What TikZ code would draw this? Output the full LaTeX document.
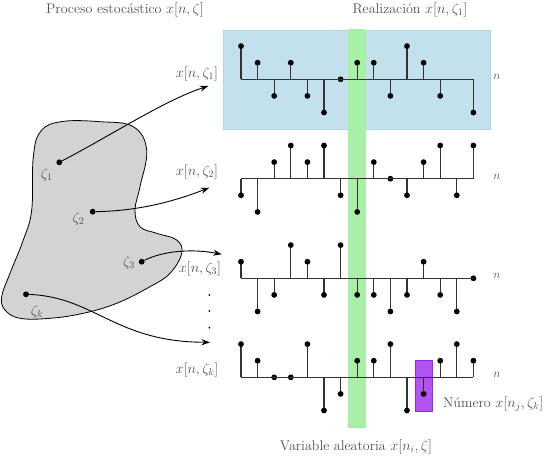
\documentclass[tikz,border=0pt]{standalone}
\usetikzlibrary{arrows.meta}
\definecolor{realblue}{RGB}{194,225,236}
\definecolor{realblueedge}{RGB}{178,214,228}
\definecolor{vargreen}{RGB}{168,240,166}
\definecolor{numpurple}{RGB}{178,82,240}
\definecolor{numpurpleedge}{RGB}{150,40,225}
\definecolor{blobgray}{RGB}{211,211,211}
\definecolor{txt}{RGB}{80,80,80}
\tikzset{
  dot/.style={circle,fill=black,inner sep=0pt,minimum size=5.8pt},
  smalldot/.style={circle,fill=black,inner sep=0pt,minimum size=2pt},
  stem/.style={line width=1.1pt,draw=black!80},
  lbl/.style={text=txt,font=\fontsize{14}{16}\selectfont,inner sep=0pt},
  axlbl/.style={text=txt,font=\fontsize{12}{14}\selectfont,inner sep=0pt},
  link/.style={line width=0.9pt,-{Stealth[length=8.5pt,width=6pt]}},
}
\begin{document}
\begin{tikzpicture}[x=1pt,y=-1pt]
\useasboundingbox (0,0) rectangle (549,459);
% highlight regions
\draw[fill=realblue,draw=realblueedge,line width=0.6pt] (223.3,30) rectangle (490.7,129);
\fill[vargreen] (348.3,29) rectangle (365.7,428.3);
\draw[fill=numpurple,draw=numpurpleedge,line width=0.8pt] (415,360.7) rectangle (432.7,411);
% sequences
\foreach \r/\y/\vals in {
  1/79.3/{2,1,-1,1,-1,-2,0,1,1,-1,2,1,-1,9,-2},
  2/178.7/{-1,-2,1,2,1,2,-1,-2,1,0,-1,1,2,-1,2},
  3/278.3/{1,-2,-1,2,1,-1,2,-1,-1,-2,-1,1,-1,-2,0},
  4/377.3/{2,1,0,0,2,-2,-1,1,1,2,-2,-1,1,2,1}} {
  \foreach \v [count=\i from 0] in \vals {
    \pgfmathsetmacro\xx{241+16.6*\i}
    \coordinate (b\r-\i) at (\xx,\y);
    \ifnum\v=9 \else
      \draw[stem] (b\r-\i) -- (\xx,{\y-16.6*\v}) node[dot] (d\r-\i) {};
    \fi
  }
  \draw[stem] (b\r-0) -- (b\r-14);
  \node[axlbl] (n\r) at (497,\y-2) {$n$};
}
% blob
\draw[fill=blobgray,line width=0.8pt] plot[smooth cycle,tension=0.65] coordinates {
  (33.3,156.7) (41,131) (62,121.5) (100,121.7) (133.3,126.7) (146.7,150)
  (140,186.7) (135,210) (140,226.7) (156.7,233.3) (176.7,240) (181.7,253.3)
  (170,273.3) (150,286.7) (116.7,303.3) (83.3,313.3) (50,318.3) (20,318.3)
  (5,310) (1.7,296.7) (10,273.3) (23.3,240) (31.7,210)};
% outcomes
\node[dot] (z1) at (59.3,162.3) {};
\node[dot] (z2) at (92.7,211.7) {};
\node[dot] (z3) at (141.7,261.7) {};
\node[dot] (zk) at (26,294.3) {};
\node[lbl] (lz1) at (46.7,175) {$\zeta_1$};
\node[lbl] (lz2) at (78.5,218.5) {$\zeta_2$};
\node[lbl] (lz3) at (129,263) {$\zeta_3$};
\node[lbl] (lzk) at (37,311.7) {$\zeta_k$};
% arrow targets
\coordinate (t1) at (208.3,86);
\coordinate (t2) at (209.3,187.7);
\coordinate (t3) at (221.7,254.3);
\coordinate (tk) at (210,342.3);
\draw[link] (z1) .. controls (110,136) and (165,100) .. (t1);
\draw[link] (z2) .. controls (135,211) and (170,203) .. (t2);
\draw[link] (z3) .. controls (165,250) and (195,249) .. (t3);
\draw[link] (zk) .. controls (95,297) and (115,342) .. (tk);
% row labels
\node[lbl] (x1) at (197,74) {$x[n,\zeta_1]$};
\node[lbl] (x2) at (197,172) {$x[n,\zeta_2]$};
\node[lbl] (x3) at (200,269) {$x[n,\zeta_3]$};
\node[lbl] (xk) at (197,370) {$x[n,\zeta_k]$};
\node[smalldot] (v1) at (209.3,295) {};
\node[smalldot] (v2) at (209.3,311) {};
\node[smalldot] (v3) at (209.3,327.7) {};
% titles
\node[lbl] (tproc) at (125,10) {Proceso estocástico $x[n,\zeta]$};
\node[lbl] (treal) at (410,10) {Realización $x[n,\zeta_1]$};
\node[lbl] (tvar) at (356,447) {Variable aleatoria $x[n_i,\zeta]$};
\node[lbl,anchor=west] (tnum) at (443,404) {Número $x[n_j,\zeta_k]$};
\end{tikzpicture}
\end{document}
